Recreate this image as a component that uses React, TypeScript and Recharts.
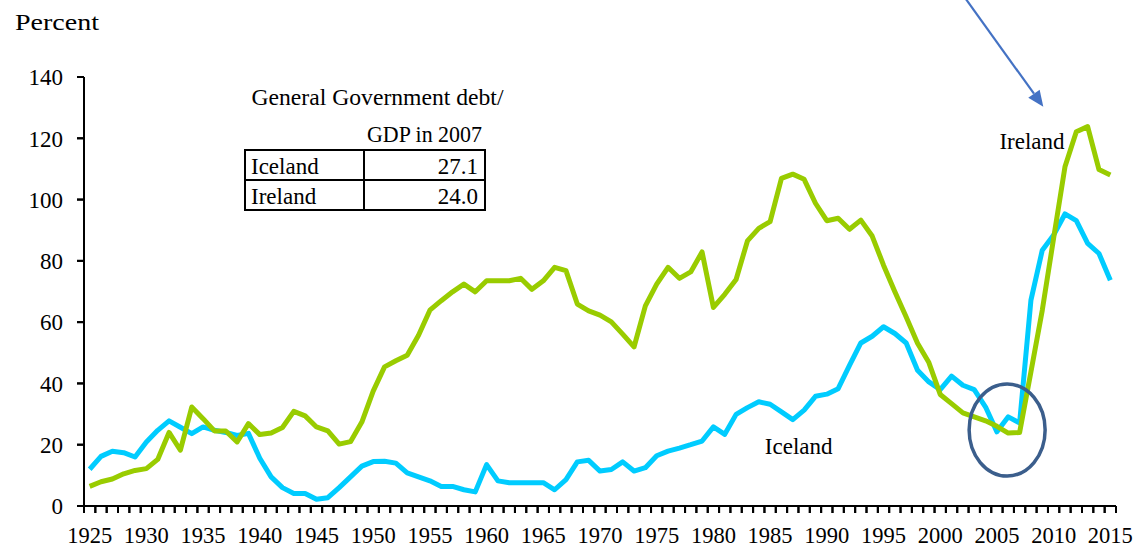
import { LineChart, Line, XAxis, YAxis, ReferenceDot, ReferenceLine } from "recharts";

// general government debt, percent of GDP, 1925-2015
const years = Array.from({ length: 91 }, (_, i) => 1925 + i);

const iceland = [
  12, 16.2, 17.9, 17.4, 16, 20.9, 24.7, 27.8, 25.7, 23.6,
  25.8, 24.7, 24, 23, 23.7, 15.6, 9.5, 6, 4.1, 4.1,
  2.2, 2.7, 6, 9.5, 13, 14.5, 14.6, 14, 10.8, 9.5,
  8.2, 6.4, 6.4, 5.3, 4.6, 13.5, 8.2, 7.6, 7.6, 7.6,
  7.6, 5.3, 8.6, 14.4, 14.9, 11.4, 11.9, 14.4, 11.4, 12.5,
  16.4, 17.9, 18.9, 20, 21.2, 25.8, 23.4, 29.9, 32.1, 34,
  33.2, 30.7, 28.2, 31.3, 35.8, 36.5, 38.3, 45.9, 53.2, 55.4,
  58.5, 56.3, 53.2, 44.3, 40.5, 38, 42.4, 39.4, 38, 32.3,
  24.2, 29.1, 27.1, 67.2, 83.5, 88.4, 95.3, 93.1, 85.7, 82.4,
  73.7,
];

const ireland = [
  6.4, 7.9, 8.8, 10.5, 11.6, 12.2, 15.2, 24, 18.2, 32.3,
  28.5, 24.5, 24.5, 20.9, 26.9, 23.3, 23.8, 25.6, 30.9, 29.4,
  25.8, 24.5, 20.2, 21, 27.4, 37.5, 45.4, 47.4, 49.2, 55.7,
  63.9, 67, 69.9, 72.4, 69.9, 73.5, 73.5, 73.5, 74.3, 70.7,
  73.5, 77.9, 76.8, 65.9, 63.7, 62.3, 60.1, 56.1, 51.9, 65.3,
  72.4, 77.9, 74.3, 76.4, 82.9, 64.8, 69.1, 73.9, 86.5, 90.6,
  92.8, 106.9, 108.3, 106.6, 98.8, 93.1, 93.9, 90.3, 93.3, 88.1,
  78.6, 69.9, 61.7, 53.1, 46.8, 36.4, 33.4, 30.4, 29.1, 27.8,
  26, 23.8, 24.0, 43.8, 63.9, 87.4, 110.7, 122.1, 123.8, 109.8,
  108,
];

const yTicks = [0, 20, 40, 60, 80, 100, 120, 140];
// tick marks sit between the years (Excel "between tick marks"), labels every 5 years
const bandEdges = Array.from({ length: 92 }, (_, i) => 1924.5 + i);
const xDomain = [1924.5, 2015.5];

const tableRows = [
  { country: "Iceland", debt: "27.1" },
  { country: "Ireland", debt: "24.0" },
];

const FONT = "Liberation Serif";
const GREEN = "#99CC00";
const CYAN = "#00CCFF";
const TICK = 7;

function Arrow(props: any) {
  const { x1, y1, x2, y2 } = props;
  const a = Math.atan2(y2 - y1, x2 - x1);
  const len = 16;
  const half = 7;
  const bx = x2 - len * Math.cos(a);
  const by = y2 - len * Math.sin(a);
  const px = -Math.sin(a) * half;
  const py = Math.cos(a) * half;
  return (
    <g>
      <line x1={x1} y1={y1} x2={bx} y2={by} stroke="#4472C4" strokeWidth={2.2} />
      <polygon points={`${x2},${y2} ${bx + px},${by + py} ${bx - px},${by - py}`} fill="#4472C4" />
    </g>
  );
}

const labelShape = (text: string) => (p: any) => (
  <text x={p.cx} y={p.cy} textAnchor="middle" fontSize={23} fontFamily={FONT} fill="#000">
    {text}
  </text>
);

// tick mark on each band edge; the year label goes half a band to the right
const XTick = (p: any) => {
  const year = p.payload.value + 0.5;
  const band = (p.width || 1032) / (bandEdges.length - 1);
  const axisY = p.y - TICK;
  return (
    <g>
      <line x1={p.x} y1={axisY} x2={p.x} y2={axisY + TICK} stroke="#000" strokeWidth={2} />
      {year % 5 === 0 && year <= 2015 && (
        <text x={p.x + band / 2} y={axisY + 21} dy="0.71em" textAnchor="middle" fontSize={22.5} fontFamily={FONT} fill="#000">
          {year}
        </text>
      )}
    </g>
  );
};

const YTick = (p: any) => {
  const axisX = p.x + TICK + 14;
  return (
    <g>
      <line x1={axisX - TICK} y1={p.y} x2={axisX} y2={p.y} stroke="#000" strokeWidth={2} />
      <text x={p.x} y={p.y} dy="0.36em" textAnchor="end" fontSize={23} fontFamily={FONT} fill="#000">
        {p.payload.value}
      </text>
    </g>
  );
};

export default function App() {
  const data = years.map((year, i) => ({ year, iceland: iceland[i], ireland: ireland[i] }));
  const axisStyle = { stroke: "#000", strokeWidth: 2 };

  return (
    <div style={{ position: "absolute", left: 0, top: 0, width: 1137, height: 547, background: "#fff", fontFamily: FONT }}>
      <LineChart width={1137} height={547} data={data} margin={{ top: 77, right: 21, bottom: 11, left: 0 }}>
        <XAxis
          dataKey="year"
          type="number"
          domain={xDomain}
          ticks={bandEdges}
          interval={0}
          stroke="#000"
          tickSize={TICK}
          tickMargin={0}
          height={30}
          axisLine={axisStyle}
          tickLine={axisStyle}
          tick={XTick}
        />
        <YAxis
          domain={[0, 140]}
          ticks={yTicks}
          interval={0}
          width={84}
          stroke="#000"
          tickSize={TICK}
          tickMargin={14}
          axisLine={axisStyle}
          tickLine={axisStyle}
          tick={YTick}
        />
        {/* axis lines */}
        <ReferenceLine y={0} stroke="#000" strokeWidth={2} ifOverflow="visible" />
        <ReferenceLine x={xDomain[0]} stroke="#000" strokeWidth={2} ifOverflow="visible" />
        <Line dataKey="iceland" stroke={CYAN} strokeWidth={5} strokeLinejoin="round" dot={false} activeDot={false} isAnimationActive={false} />
        <Line dataKey="ireland" stroke={GREEN} strokeWidth={5} strokeLinejoin="round" dot={false} activeDot={false} isAnimationActive={false} />
        <ReferenceDot
          x={2005.9}
          y={24.8}
          r={0}
          shape={(p: any) => (
            <ellipse cx={p.cx} cy={p.cy} rx={38} ry={46} fill="none" stroke="#3B5E8C" strokeWidth={3.5} />
          )}
        />
        <ReferenceLine
          segment={[{ x: 2002.0, y: 166.8 }, { x: 2009.09, y: 130.3 }]}
          ifOverflow="visible"
          shape={Arrow}
        />
        <ReferenceDot x={2008.09} y={116.4} r={0} shape={labelShape("Ireland")} />
        <ReferenceDot x={1987.52} y={17.0} r={0} shape={labelShape("Iceland")} />
      </LineChart>

      <svg width={1137} height={547} style={{ position: "absolute", left: 0, top: 0, pointerEvents: "none" }}>
        <text x={15} y={29.5} fontSize={24} fontFamily={FONT} textLength={84} lengthAdjust="spacingAndGlyphs">
          Percent
        </text>
        <text x={251.5} y={105} fontSize={23.5} fontFamily={FONT} textLength={252} lengthAdjust="spacingAndGlyphs">
          General Government debt/
        </text>
        <text x={367} y={141.7} fontSize={22.5} fontFamily={FONT} textLength={115} lengthAdjust="spacingAndGlyphs">
          GDP in 2007
        </text>
        <rect x={245} y={150} width={240} height={60} fill="none" stroke="#000" strokeWidth={2} />
        <line x1={245} y1={180} x2={485} y2={180} stroke="#000" strokeWidth={2} />
        <line x1={364} y1={150} x2={364} y2={210} stroke="#000" strokeWidth={2} />
        {tableRows.map((r, i) => (
          <g key={r.country}>
            <text x={251} y={174 + i * 30} fontSize={23} fontFamily={FONT}>
              {r.country}
            </text>
            <text x={478} y={174 + i * 30} fontSize={23} fontFamily={FONT} textAnchor="end">
              {r.debt}
            </text>
          </g>
        ))}
      </svg>
    </div>
  );
}
